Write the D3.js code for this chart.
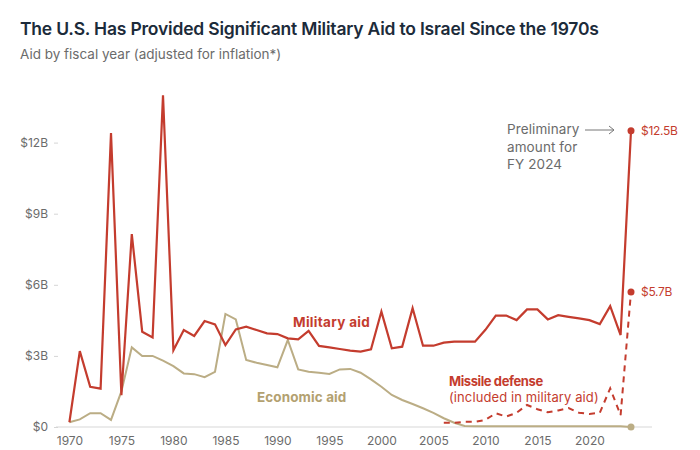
<!DOCTYPE html>
<html><head><meta charset="utf-8">
<script src="https://cdn.jsdelivr.net/npm/d3@7/dist/d3.min.js"></script>
<style>
body{margin:0;background:#fff;}
svg{display:block;font-family:Inter,"Noto Sans",sans-serif;}
</style></head>
<body><svg id="c" width="700" height="450"></svg>
<script>
const years = d3.range(1970, 2025);
const militaryAid = [0.2,3.2,1.7,1.62,12.4,1.34,8.14,4.02,3.78,14.0,3.24,4.09,3.84,4.47,4.33,3.46,4.12,4.23,4.09,3.95,3.92,3.74,3.70,4.06,3.42,3.36,3.29,3.22,3.18,3.28,4.87,3.32,3.39,5.01,3.43,3.43,3.56,3.6,3.6,3.6,4.1,4.7,4.7,4.51,4.96,4.96,4.54,4.72,4.65,4.58,4.51,4.34,5.1,3.88,12.5];
const economicAid = [0.2,0.32,0.58,0.58,0.3,1.5,3.36,3.0,3.0,2.8,2.57,2.26,2.23,2.1,2.33,4.77,4.54,2.83,2.71,2.62,2.52,3.67,2.43,2.33,2.29,2.24,2.43,2.45,2.29,2.01,1.70,1.35,1.14,0.97,0.79,0.60,0.37,0.18,0.04,0.03,0.03,0.03,0.03,0.03,0.03,0.03,0.03,0.03,0.03,0.03,0.03,0.03,0.03,0.03,0.0];
const missileYears = d3.range(2006, 2025);
const missileDefense = [0.18,0.18,0.22,0.22,0.30,0.58,0.44,0.6,0.93,0.75,0.62,0.7,0.8,0.6,0.55,0.6,1.63,0.5,5.7];
const yTicks = [0,3,6,9,12];
const yTickLabels = ["$0","$3B","$6B","$9B","$12B"];
const xTicks = d3.range(1970, 2021, 5);

const RED = "#c43c2e", BEIGE = "#bbad85", BEIGE_TXT = "#b3a170", GRAY = "#6b6b6b";
const svg = d3.select("#c");
const x = d3.scaleLinear().domain([1970, 2024]).range([69.4, 631]);
const y = d3.scaleLinear().domain([0, 12]).range([427, 142.6]);

// title
svg.append("text").attr("x", 20).attr("y", 35).attr("fill", "#1c2b3a")
  .attr("font-size", 17.5).attr("font-weight", 600).attr("letter-spacing", -0.2)
  .text("The U.S. Has Provided Significant Military Aid to Israel Since the 1970s");
svg.append("text").attr("x", 20).attr("y", 59).attr("fill", GRAY)
  .attr("font-size", 13.5).attr("letter-spacing", 0)
  .text("Aid by fiscal year (adjusted for inflation*)");

// baseline
svg.append("line").attr("x1", 56).attr("x2", 652).attr("y1", y(0)).attr("y2", y(0))
  .attr("stroke", "#e4e4e4").attr("stroke-width", 1.5);

// y axis
const yAxis = svg.append("g").attr("transform", "translate(58,0)")
  .call(d3.axisLeft(y).tickValues(yTicks).tickSize(4).tickPadding(6)
    .tickFormat((d, i) => yTickLabels[i]));
yAxis.select(".domain").remove();
yAxis.selectAll("line").attr("stroke", "#d5d5d5");
yAxis.selectAll("text").attr("fill", GRAY).attr("font-size", 12).attr("font-family", "Inter,sans-serif");

// x axis
const xAxis = svg.append("g").attr("transform", `translate(0,${y(0)})`)
  .call(d3.axisBottom(x).tickValues(xTicks).tickSize(0).tickPadding(9).tickFormat(d3.format("d")));
xAxis.select(".domain").remove();
xAxis.selectAll("text").attr("fill", GRAY).attr("font-size", 12).attr("font-family", "Inter,sans-serif");

const line = d3.line().x(d => x(d[0])).y(d => y(d[1]));

// economic
svg.append("path").datum(years.map((yr, i) => [yr, economicAid[i]]))
  .attr("d", line).attr("fill", "none").attr("stroke", BEIGE).attr("stroke-width", 2);
// missile defense
svg.append("path").datum(missileYears.map((yr, i) => [yr, missileDefense[i]]))
  .attr("d", line).attr("fill", "none").attr("stroke", RED).attr("stroke-width", 2)
  .attr("stroke-dasharray", "6,5");
// military
svg.append("path").datum(years.map((yr, i) => [yr, militaryAid[i]]))
  .attr("d", line).attr("fill", "none").attr("stroke", RED).attr("stroke-width", 2.2);

// end dots
const last = years.length - 1;
svg.append("circle").attr("cx", x(2024)).attr("cy", y(militaryAid[last])).attr("r", 3.5).attr("fill", RED);
svg.append("circle").attr("cx", x(2024)).attr("cy", y(missileDefense[missileDefense.length - 1])).attr("r", 3.5).attr("fill", RED);
svg.append("circle").attr("cx", x(2024)).attr("cy", y(economicAid[last])).attr("r", 3.5).attr("fill", BEIGE);

svg.append("text").attr("x", x(2024) + 10).attr("y", y(militaryAid[last]) + 4.5)
  .attr("fill", RED).attr("font-size", 12).attr("letter-spacing", -0.3)
  .text("$" + militaryAid[last] + "B");
svg.append("text").attr("x", x(2024) + 10).attr("y", y(missileDefense[missileDefense.length - 1]) + 4.5)
  .attr("fill", RED).attr("font-size", 12).attr("letter-spacing", -0.3)
  .text("$" + missileDefense[missileDefense.length - 1] + "B");

// labels
svg.append("text").attr("x", 293).attr("y", 327).attr("fill", RED)
  .attr("font-size", 13.5).attr("font-weight", 700).attr("letter-spacing", 0.3).text("Military aid");
svg.append("text").attr("x", 257).attr("y", 402).attr("fill", BEIGE_TXT)
  .attr("font-size", 13.5).attr("font-weight", 700).attr("letter-spacing", 0.1).text("Economic aid");
svg.append("text").attr("x", 449).attr("y", 386).attr("fill", RED)
  .attr("font-size", 13).attr("font-weight", 700).attr("letter-spacing", -0.4).text("Missile defense");
svg.append("text").attr("x", 449).attr("y", 402).attr("fill", RED)
  .attr("font-size", 13).attr("letter-spacing", 0.1).text("(included in military aid)");

// preliminary note
const note = ["Preliminary", "amount for", "FY 2024"];
svg.append("text").attr("x", 507).attr("y", 134).attr("fill", GRAY).attr("font-size", 13.5).attr("letter-spacing", 0.1)
  .selectAll("tspan").data(note).join("tspan").attr("x", 507).attr("dy", (d, i) => i ? 17.5 : 0).text(d => d);
svg.append("line").attr("x1", 585).attr("x2", 614).attr("y1", 130).attr("y2", 130)
  .attr("stroke", "#777").attr("stroke-width", 1);
svg.append("path").attr("d", "M609,126 L614,130 L609,134").attr("fill", "none").attr("stroke", "#777").attr("stroke-width", 1);
</script></body></html>
